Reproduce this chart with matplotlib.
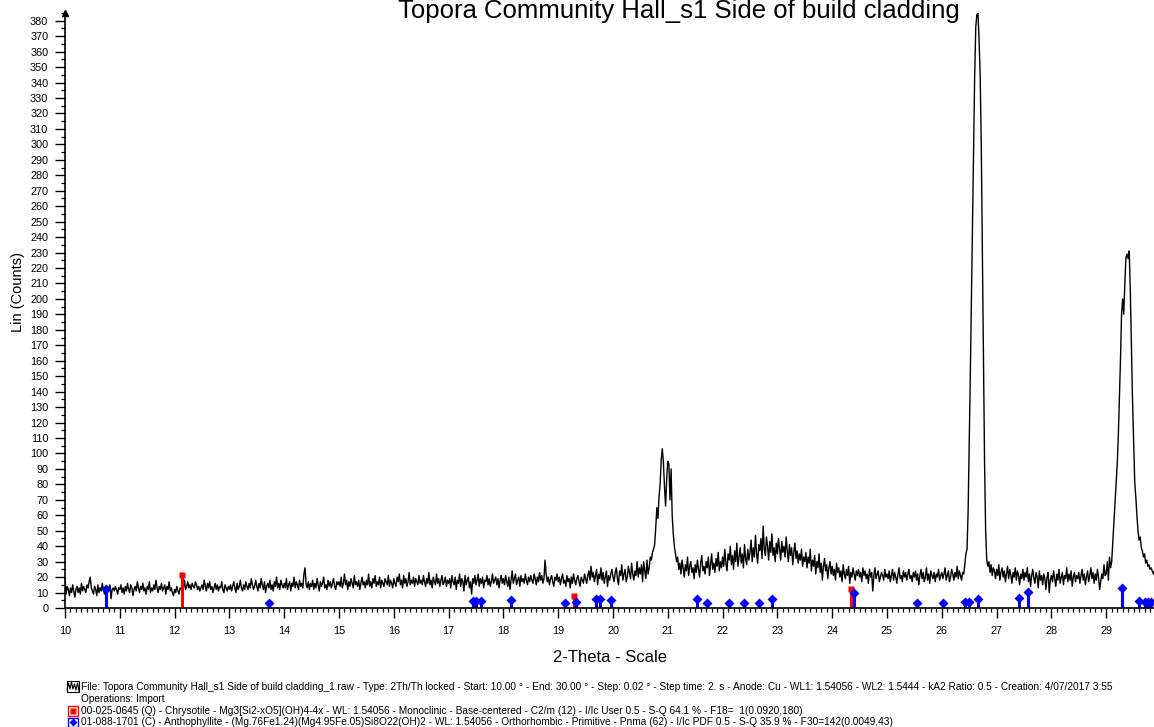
"""XRD scan of the Topora Community Hall cladding sample,
with the Chrysotile and Anthophyllite reference sticks"""
import numpy as np
import matplotlib.pyplot as plt
from matplotlib.patches import Rectangle
from matplotlib.ticker import MultipleLocator

plt.rcParams['font.family'] = ['Liberation Sans', 'DejaVu Sans']

## scan settings (from the file line of the legend)
START = 10.00
STEP = 0.02

## counts, one row per half degree
COUNTS = [
    19, 9, 14, 12, 8, 13, 10, 15, 11, 7, 12, 14, 10, 13, 9, 16, 11, 14, 12, 10, 15, 13, 17, 20, 13,
    11, 9, 14, 12, 8, 15, 10, 13, 11, 16, 12, 9, 14, 10, 13, 12, 15, 6, 12, 13, 11, 14, 12, 9, 13,
    12, 15, 10, 13, 9, 14, 11, 16, 12, 10, 15, 13, 8, 12, 14, 11, 17, 13, 10, 14, 12, 16, 11, 13, 9,
    14, 12, 17, 10, 13, 11, 15, 12, 18, 13, 10, 14, 12, 16, 11, 13, 15, 9, 14, 12, 17, 11, 13, 10, 8,
    12, 10, 14, 11, 9, 13, 12, 15, 13, 18, 12, 14, 17, 13, 15, 12, 16, 14, 13, 17, 15, 12, 14, 11, 13,
    15, 12, 18, 14, 11, 16, 13, 17, 12, 14, 10, 13, 16, 12, 15, 11, 14, 13, 17, 12, 10, 15, 13, 11, 14,
    12, 15, 11, 14, 17, 13, 10, 16, 12, 14, 18, 13, 11, 15, 12, 17, 14, 12, 16, 13, 19, 15, 12, 14, 18,
    14, 11, 16, 13, 19, 15, 12, 17, 10, 14, 16, 13, 18, 12, 15, 11, 17, 14, 20, 13, 16, 12, 18, 15, 13,
    16, 13, 19, 12, 15, 17, 11, 16, 14, 20, 13, 17, 15, 12, 18, 14, 16, 13, 22, 26, 15, 13, 17, 12, 16,
    14, 18, 12, 16, 13, 19, 15, 11, 17, 14, 16, 20, 13, 15, 12, 18, 14, 17, 13, 16, 19, 14, 12, 17, 15,
    17, 14, 20, 13, 16, 22, 15, 18, 12, 17, 14, 19, 16, 13, 21, 15, 17, 14, 18, 12, 16, 20, 15, 17, 13,
    18, 15, 22, 14, 17, 13, 19, 16, 21, 14, 17, 15, 20, 13, 18, 16, 14, 19, 17, 15, 21, 14, 18, 16, 13,
    19, 16, 14, 20, 17, 22, 15, 18, 13, 21, 16, 19, 14, 17, 23, 15, 18, 16, 20, 14, 19, 17, 15, 21, 16,
    18, 15, 21, 17, 14, 19, 16, 23, 15, 18, 13, 20, 17, 15, 22, 16, 19, 14, 18, 21, 15, 17, 20, 14, 18,
    16, 19, 13, 21, 17, 15, 20, 12, 18, 16, 22, 14, 19, 17, 11, 21, 15, 18, 20, 13, 17, 9, 19, 16, 21,
    15, 18, 22, 14, 19, 16, 20, 13, 18, 17, 21, 15, 19, 14, 17, 22, 16, 18, 20, 15, 19, 13, 18, 21, 16,
    19, 15, 21, 17, 14, 20, 12, 18, 24, 16, 19, 22, 15, 18, 20, 14, 21, 17, 19, 16, 22, 18, 15, 20, 17,
    21, 18, 16, 22, 19, 15, 20, 17, 23, 18, 21, 16, 19, 31, 22, 17, 20, 15, 19, 21, 17, 14, 20, 18, 22,
    17, 20, 15, 19, 22, 16, 18, 14, 21, 17, 19, 13, 20, 16, 22, 18, 15, 19, 21, 17, 14, 20, 18, 16, 22,
    19, 16, 21, 24, 18, 27, 20, 23, 17, 21, 25, 15, 22, 19, 26, 18, 23, 16, 20, 24, 14, 21, 18, 22, 25,
    20, 17, 23, 26, 19, 15, 24, 21, 28, 18, 22, 25, 17, 20, 27, 23, 19, 29, 22, 18, 24, 21, 30, 20, 26,
    22, 28, 17, 30, 24, 19, 31, 22, 26, 33, 31, 36, 38, 41, 52, 65, 58, 72, 80, 96, 103, 94, 78, 66, 84,
    95, 93, 70, 90, 60, 48, 40, 35, 30, 33, 25, 29, 22, 31, 26, 20, 28, 24, 33, 21, 27, 30, 23, 26, 19,
    28, 23, 31, 25, 20, 29, 34, 24, 27, 22, 30, 26, 33, 21, 28, 35, 25, 29, 23, 32, 27, 36, 24, 30, 26,
    33, 27, 38, 29, 24, 35, 31, 40, 28, 34, 25, 37, 30, 42, 27, 33, 39, 29, 35, 26, 41, 32, 28, 38, 31,
    36, 44, 30, 39, 33, 47, 35, 29, 41, 37, 45, 32, 53, 38, 34, 46, 40, 31, 43, 36, 48, 34, 39, 30, 42,
    35, 45, 38, 31, 43, 36, 40, 33, 46, 37, 30, 41, 34, 39, 28, 36, 42, 32, 37, 29, 35, 31, 38, 27, 33,
    30, 36, 26, 33, 29, 38, 24, 31, 27, 34, 22, 30, 26, 35, 23, 29, 18, 27, 32, 24, 28, 19, 26, 30, 22,
    27, 21, 25, 18, 29, 23, 26, 20, 24, 17, 28, 22, 19, 25, 21, 27, 16, 23, 20, 26, 22, 18, 24, 21, 25,
    20, 23, 17, 26, 21, 24, 19, 22, 16, 25, 20, 23, 11, 21, 26, 19, 22, 24, 17, 20, 23, 21, 18, 25, 20,
    22, 19, 24, 17, 21, 25, 18, 23, 20, 16, 22, 26, 19, 21, 17, 24, 20, 23, 18, 22, 25, 19, 21, 17, 23,
    20, 24, 18, 22, 15, 21, 25, 19, 23, 17, 20, 26, 18, 22, 16, 24, 21, 19, 23, 17, 22, 20, 25, 18, 21,
    23, 19, 22, 26, 18, 21, 24, 17, 20, 25, 22, 18, 23, 20, 27, 19, 24, 21, 18, 23, 22, 28, 35, 38, 62,
    105, 150, 200, 250, 300, 345, 376, 384, 385, 368, 345, 300, 230, 160, 95, 50, 31, 27, 30, 23, 28, 21, 26, 24, 19,
    25, 21, 28, 18, 23, 26, 20, 24, 17, 22, 27, 19, 25, 21, 16, 23, 20, 26, 18, 24, 21, 15, 22, 19, 25,
    18, 23, 20, 26, 17, 22, 14, 21, 25, 19, 16, 23, 20, 13, 24, 18, 21, 15, 22, 19, 12, 20, 23, 10, 18,
    21, 17, 24, 19, 14, 22, 18, 25, 16, 20, 23, 15, 21, 19, 26, 17, 22, 18, 24, 14, 20, 23, 17, 21, 19,
    23, 16, 21, 25, 18, 22, 15, 20, 24, 17, 21, 26, 19, 23, 16, 22, 18, 25, 20, 12, 17, 22, 19, 28, 21,
    22, 30, 18, 33, 26, 30, 42, 55, 68, 80, 92, 110, 135, 160, 190, 200, 190, 210, 227, 229, 226, 231, 205, 170, 135,
    108, 82, 72, 60, 50, 44, 46, 39, 37, 33, 35, 29, 31, 27, 28, 25, 26, 24, 22, 24, 23, 21, 24, 22, 20,
    21,
]

## reference sticks: 00-025-0645 Chrysotile (red), 01-088-1701 Anthophyllite (blue)
CHRYSOTILE_POS = [12.13, 19.29, 24.34]
CHRYSOTILE_INT = [21.5, 8.0, 12.3]
ANTHO_POS = [10.75, 13.72, 17.45, 17.50, 17.59, 18.14, 19.12, 19.33, 19.69, 19.76,
             19.96, 21.54, 21.72, 22.12, 22.39, 22.67, 22.91, 24.39, 25.55, 26.03,
             26.42, 26.50, 26.66, 27.41, 27.58, 29.29, 29.60, 29.70, 29.76, 29.82]
ANTHO_INT = [12.5, 3.0, 4.3, 4.3, 4.3, 5.0, 3.2, 4.0, 6.0, 6.0,
             5.5, 5.6, 3.4, 3.4, 3.4, 3.4, 5.6, 10.0, 3.4, 3.4,
             4.0, 4.0, 6.0, 6.3, 10.6, 13.0, 4.3, 4.0, 4.0, 3.7]

TITLE = "Topora Community Hall_s1 Side of build cladding"
LEGEND_LINES = [
    "File: Topora Community Hall_s1 Side of build cladding_1.raw - Type: 2Th/Th locked - Start: 10.00 \u00b0 - End: 30.00 \u00b0 - Step: 0.02 \u00b0 - Step time: 2. s - Anode: Cu - WL1: 1.54056 - WL2: 1.5444 - kA2 Ratio: 0.5 - Creation: 4/07/2017 3:55",
    "Operations: Import",
    "00-025-0645 (Q) - Chrysotile - Mg3[Si2-xO5](OH)4-4x - WL: 1.54056 - Monoclinic - Base-centered - C2/m (12) - I/Ic User 0.5 - S-Q 64.1 % - F18=  1(0.0920,180)",
    "01-088-1701 (C) - Anthophyllite - (Mg.76Fe1.24)(Mg4.95Fe.05)Si8O22(OH)2 - WL: 1.54056 - Orthorhombic - Primitive - Pnma (62) - I/Ic PDF 0.5 - S-Q 35.9 % - F30=142(0.0049,43)",
]

RED = '#ff0000'
BLUE = '#0000ff'
W, H = 1154, 727

fig = plt.figure(figsize=(W / 100, H / 100), dpi=100)
ax = fig.add_axes([65 / W, 119 / H, (W - 65) / W, 595 / H])

two_theta = START + STEP * np.arange(len(COUNTS))
ax.plot(two_theta, COUNTS, color='black', lw=1.0)
ax.vlines(CHRYSOTILE_POS, 0, CHRYSOTILE_INT, color=RED, lw=2.2)
ax.plot(CHRYSOTILE_POS, CHRYSOTILE_INT, 's', color=RED, ms=5, mec='none')
ax.vlines(ANTHO_POS, 0, ANTHO_INT, color=BLUE, lw=2.2)
ax.plot(ANTHO_POS, ANTHO_INT, 'D', color=BLUE, ms=4.8, mec='none')

ax.set_xlim(10, 10 + (W - 65) / 54.8)
ax.set_ylim(0, 385)
for side in ('top', 'right'):
    ax.spines[side].set_visible(False)
for side in ('left', 'bottom'):
    ax.spines[side].set_linewidth(1.2)
## arrow head on top of the y axis
ax.plot([0], [1], marker='^', color='black', ms=5, transform=ax.transAxes, clip_on=False)

ax.xaxis.set_major_locator(MultipleLocator(1))
ax.xaxis.set_minor_locator(MultipleLocator(0.1))
ax.yaxis.set_major_locator(MultipleLocator(10))
ax.yaxis.set_minor_locator(MultipleLocator(5))
ax.tick_params(which='major', length=7, width=1, labelsize=7.8, pad=5)
ax.tick_params(axis='x', which='major', pad=6)
ax.tick_params(which='minor', length=3.2, width=0.9)

fig.text(679 / W, 1 - 18 / H, TITLE, fontsize=18.5, ha='center', va='baseline')
fig.text(18 / W, 1 - 292 / H, "Lin (Counts)", fontsize=10.5, rotation=90,
         ha='center', va='center')
fig.text(610 / W, 1 - 657 / H, "2-Theta - Scale", fontsize=12, ha='center', va='center')

## legend rows below the x axis
rows_y = [687, 699, 711, 722]
for text, row in zip(LEGEND_LINES, rows_y):
    fig.text(81 / W, 1 - row / H, text, fontsize=7.3, ha='left', va='center')

ov = fig.add_axes([0, 0, 1, 1])
ov.set_xlim(0, W)
ov.set_ylim(H, 0)
ov.axis('off')
ov.patch.set_alpha(0)
ov.add_patch(Rectangle((67, 681), 12, 11, fill=False, ec='black', lw=0.8))
ov.plot([67, 68.5, 70, 71.5, 73, 74.5, 76, 77.5, 79],
        [690, 683, 689, 682, 689, 684, 690, 683, 691], color='black', lw=0.8)
ov.add_patch(Rectangle((67.5, 706), 10.5, 10, fill=False, ec=RED, lw=1))
ov.plot([72.75], [711], 's', color=RED, ms=4.5, mec='none')
ov.add_patch(Rectangle((67.5, 717.5), 10.5, 9, fill=False, ec=BLUE, lw=1))
ov.plot([72.75], [722], 'D', color=BLUE, ms=4.2, mec='none')

fig.savefig("out.png", dpi=100)
